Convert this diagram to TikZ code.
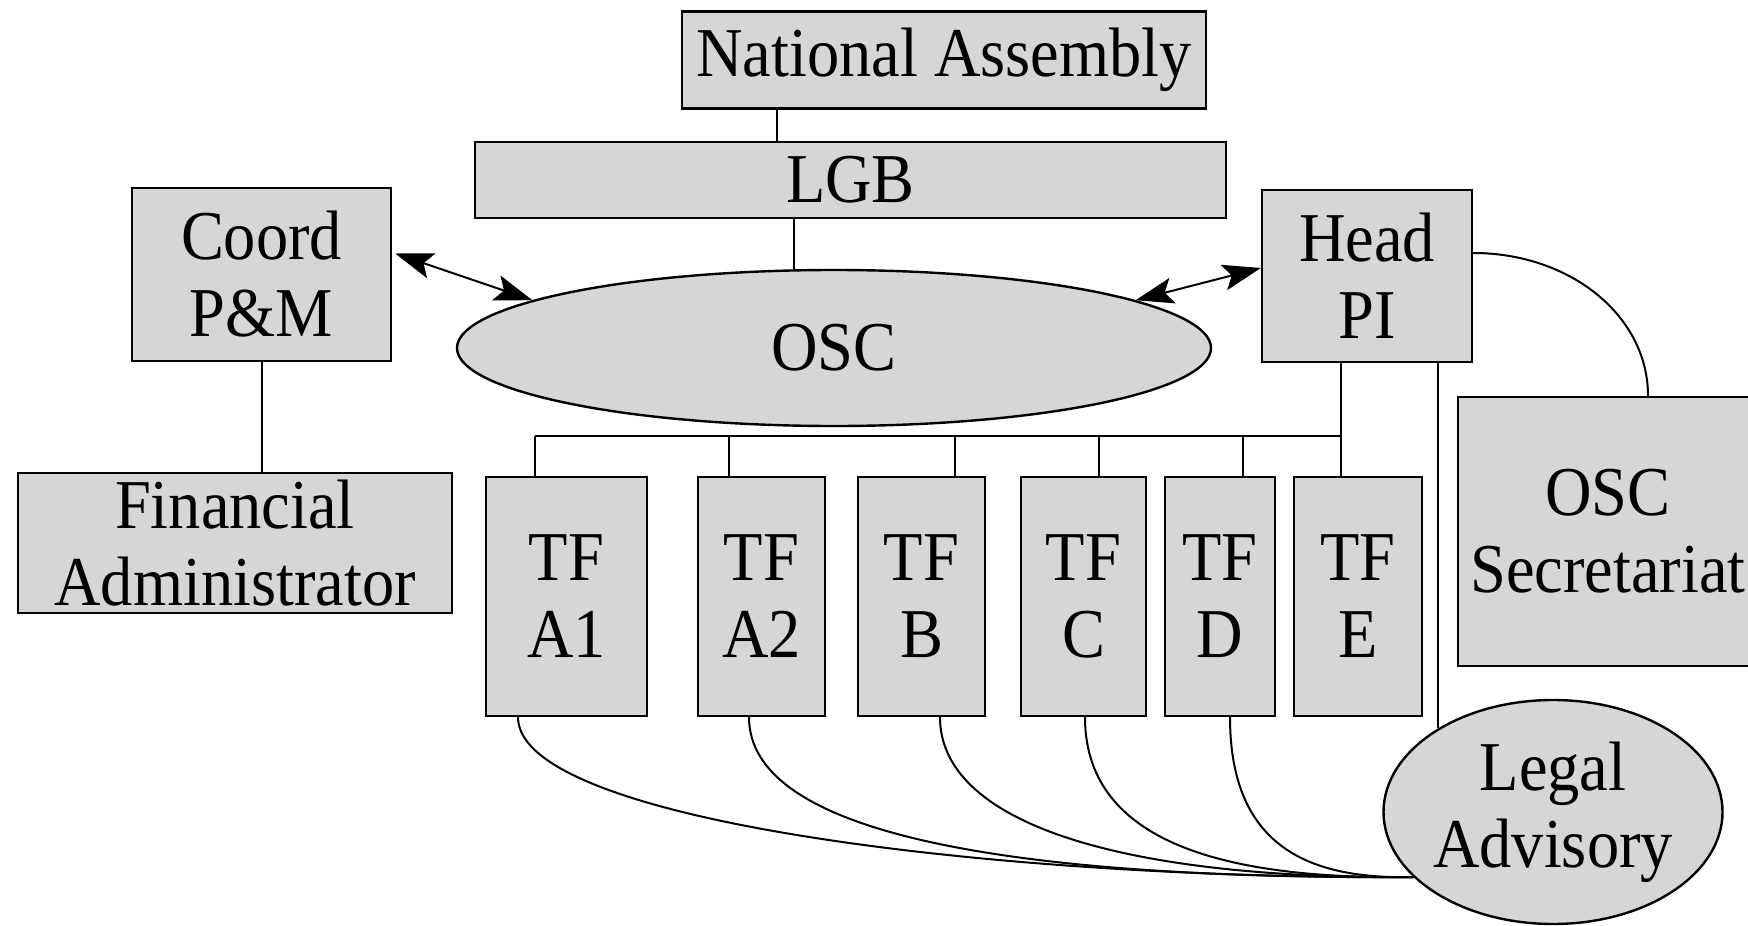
\documentclass[tikz,border=0pt]{standalone}
\usepackage{fontspec}
\setmainfont{Liberation Serif}[FakeStretch=0.92]
\usetikzlibrary{shapes.geometric,arrows.meta}
\definecolor{boxfill}{gray}{0.84}
\begin{document}
\begin{tikzpicture}[x=0.5pt,y=-0.5pt,
  box/.style={draw=black,line width=1.2pt,fill=boxfill,inner sep=0pt,align=center,
    font=\fontsize{35}{38.5}\selectfont},
  oval/.style={box,ellipse},
  tfbox/.style={box,minimum height=119.5pt},
  link/.style={line width=1pt},
  >={Stealth[length=19pt,width=13pt,inset=4pt]}]
\clip (0,0) rectangle (1748,925);
% nodes
\node[box,minimum width=262pt,minimum height=48.5pt] (NA) at (944,60) {National Assembly};
\node[box,minimum width=375.5pt,minimum height=38pt] (LGB) at (850.5,180) {LGB};
\node[box,minimum width=129.5pt,minimum height=86.5pt] (CPM) at (261.5,274.5) {Coord\\P\&M};
\node[oval,minimum width=377pt,minimum height=78pt] (OSC) at (834,348) {OSC};
\node[box,minimum width=105pt,minimum height=86pt] (HPI) at (1367,276) {Head\\PI};
\node[box,minimum width=217pt,minimum height=70pt] (FA) at (235,543) {Financial\\Administrator};
\node[tfbox,minimum width=80.5pt] (TA1) at (566.5,596.5) {TF\\A1};
\node[tfbox,minimum width=63.5pt] (TA2) at (761.5,596.5) {TF\\A2};
\node[tfbox,minimum width=63.5pt] (TB) at (921.5,596.5) {TF\\B};
\node[tfbox,minimum width=62.5pt] (TC) at (1083.5,596.5) {TF\\C};
\node[tfbox,minimum width=55pt] (TD) at (1220,596.5) {TF\\D};
\node[tfbox,minimum width=64pt] (TE) at (1358,596.5) {TF\\E};
\node[box,minimum width=150pt,minimum height=134.5pt] (OSCS) at (1608,531.5) {OSC\\Secretariat};
\node[oval,minimum width=161pt,minimum height=112pt] (LA) at (1553,812) {Legal\\Advisory};
% helper coordinates
\coordinate (xNA) at (777,0);
\coordinate (xLGB) at (794,0);
\coordinate (xSec) at (1648,0);
\coordinate (busL) at (535,436);
\coordinate (busR) at (1341,436);
\coordinate (dA2) at (729,436);
\coordinate (dB) at (955,436);
\coordinate (dC) at (1099,436);
\coordinate (dD) at (1243,436);
% connectors
\draw[link] (NA.south -| xNA) -- (LGB.north -| xNA);
\draw[link] (LGB.south -| xLGB) -- (OSC.north -| xLGB);
\draw[link] (CPM.south) -- (FA.north -| CPM.south);
\draw[link,<->] ([xshift=1.5pt,yshift=10.5pt]CPM.east) -- (OSC.171);
\draw[link,<->] (OSC.9) -- ([yshift=4pt]HPI.west);
\draw[link] ([yshift=11.5pt]HPI.east) .. controls +(97,0) and +(0,-80) .. (OSCS.north -| xSec);
\draw[link] (HPI.south -| busR) -- (TE.north -| busR);
\draw[link] (busL) -- (busR);
\draw[link] (busL) -- (TA1.north -| busL);
\draw[link] (dA2) -- (TA2.north -| dA2);
\draw[link] (dB) -- (TB.north -| dB);
\draw[link] (dC) -- (TC.north -| dC);
\draw[link] (dD) -- (TD.north -| dD);
\draw[link] (HPI.south -| LA.144.5) -- (LA.144.5);
\draw[link] ([xshift=-24.25pt]TA1.south) .. controls +(0,104) and +(-419,2) .. (LA.205);
\draw[link] ([xshift=-6.25pt]TA2.south) .. controls +(0,114) and +(-419,2) .. (LA.205);
\draw[link] ([xshift=9.25pt]TB.south) .. controls +(0,104) and +(-299,2) .. (LA.205);
\draw[link] ([xshift=0.75pt]TC.south) .. controls +(0,134) and +(-169,2) .. (LA.205);
\draw[link] ([xshift=5pt]TD.south) .. controls +(0,134) and +(-99,2) .. (LA.205);
\end{tikzpicture}
\end{document}
